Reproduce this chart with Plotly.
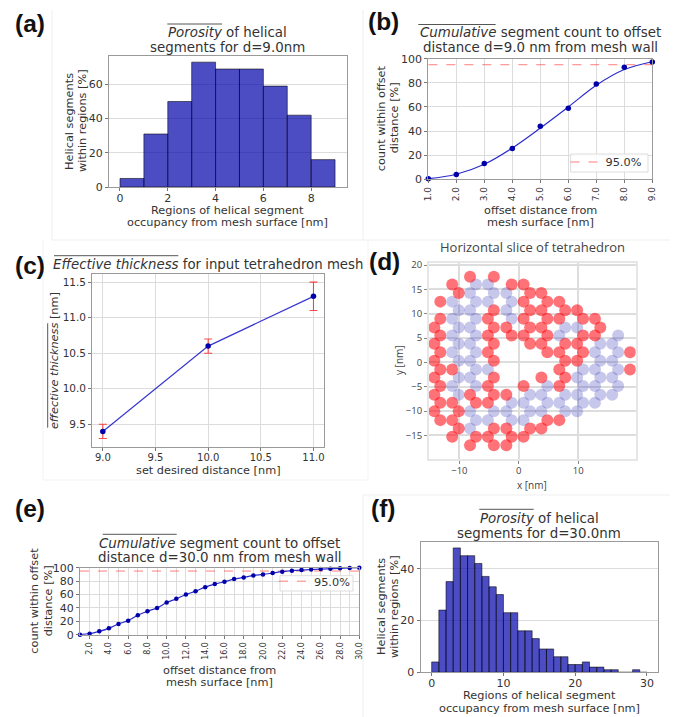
import plotly.graph_objects as go

W, H = 680, 717

# (a)
a_regions = [0.5, 1.5, 2.5, 3.5, 4.5, 5.5, 6.5, 7.5, 8.5]
a_counts = [5, 31, 50, 73, 69, 69, 59, 42, 16]
# (b)
b_offset = [1, 2, 3, 4, 5, 6, 7, 8, 9]
b_points = [0.5, 4, 13, 25.5, 44, 59, 79, 93, 97.3]
b_curve = [0.5, 4.2, 12.5, 26, 42.5, 60, 78, 91, 97.5]
b_limit = [95, 95, 95, 95, 95, 95, 95, 95, 95]
# (c)
c_dist = [9, 10, 11]
c_thick = [9.4, 10.6, 11.3]
c_err = [0.1, 0.1, 0.2]
# (d) rows of the slice: (y, [red x], [blue x])
d_rows = [
    (17.6, [-8.2, -4.2], []),
    (16.0, [-11.2, -1.2, 0.8], [-7.2, -5.2]),
    (14.25, [-10.1, 1.9, 3.8], [-8.2, -4.2, -2.1]),
    (12.5, [-13.2, 0.8, 4.8, 6.8], [-11.2, -7.2, -5.2, -1.2]),
    (10.75, [-4.2, 1.9, 3.8, 7.8, 9.8], [-10.1, -8.2, -2.1]),
    (9.0, [-13.2, -5.2, 0.8, 4.8, 6.8, 10.8, 12.8], [-11.2, -7.2, -1.2]),
    (7.2, [-14.2, -4.2, -2.1, 1.9, 3.8, 13.7], [-10.1, -8.2, 7.8, 9.8]),
    (5.55, [-13.2, -5.2, -1.2, 0.8, 4.8, 10.8, 12.8], [-11.2, -7.2, 6.8, 16.7]),
    (3.85, [-14.2, -4.2, 1.9, 3.8, 7.8, 9.8], [-10.1, -8.2, 13.7, 15.7]),
    (2.1, [-13.2, -5.2, 4.8, 6.8, 10.8, 18.7], [-11.2, -7.2, 12.8, 16.7]),
    (0.35, [-14.2, -4.2, 7.8, 9.8], [-10.1, -8.2, 13.7, 15.7]),
    (-1.45, [-13.2, -11.2, 6.8, 18.7], [-7.2, -5.2, 10.8, 12.8, 16.7]),
    (-3.1, [-14.2, -4.2, 3.8, 7.8], [-10.1, -8.2, 9.8, 13.7, 15.7]),
    (-4.85, [-13.2, -5.2, 0.8, 6.8], [-11.2, -7.2, 4.8, 10.8, 12.8, 16.7]),
    (-6.65, [-14.2, -8.2, -4.2, -2.1], [-10.1, 1.9, 3.8, 7.8, 9.8, 13.7, 15.7]),
    (-8.3, [-13.2, -11.2, -7.2, -5.2], [-1.2, 0.8, 4.8, 6.8, 10.8, 12.8]),
    (-10.05, [-14.2, -10.1], [-8.2, -4.2, -2.1, 1.9, 3.8, 7.8, 9.8]),
    (-11.85, [-13.2, -11.2, 4.8, 6.8], [-7.2, -5.2, -1.2, 0.8]),
    (-13.55, [-10.1, -4.2, -2.1, 1.9, 3.8], [-8.2]),
    (-15.25, [-11.2, -7.2, -5.2, -1.2, 0.8], []),
    (-17.0, [-8.2, -4.2, -2.1], []),
]
d_red_x = [x for y, r, b in d_rows for x in r]
d_red_y = [y for y, r, b in d_rows for x in r]
d_blue_x = [x for y, r, b in d_rows for x in b]
d_blue_y = [y for y, r, b in d_rows for x in b]
# (e)
e_offset = list(range(1, 31))
e_points = [0, 1.5, 5, 9.5, 16, 21, 29, 35, 40, 48, 53.5, 60, 65, 71, 75.5,
            79, 83, 85.5, 88.5, 90, 92, 94, 95.5, 96.5, 97.3, 98, 98.5, 99, 99.6, 100]
e_limit = [95] * 30
e_ticks = list(range(2, 31, 2))
# (f)
f_regions = [i + 0.5 for i in range(30)]
f_counts = [4, 24, 35, 48, 45, 45, 42, 37, 33, 30, 23, 23, 16, 16, 13, 9, 9, 6, 6, 3,
            3, 4, 2, 2, 1, 1, 0, 0, 1, 0]


def px(x):
    return x / W


def py(y):
    return 1 - y / H


MPL = "DejaVu Sans"
TXT = "#333333"
FRAME = "#9a9a9a"
GRID = "#dcdcdc"
BLUE = "#0000a8"
BAR = "rgba(0,0,170,0.7)"
EDGE = "rgba(0,0,0,0.55)"


def axis(domain, rng, anchor, size=11, grid=True, **kw):
    d = dict(domain=domain, range=rng, anchor=anchor, showline=True, mirror=True, linecolor=FRAME, linewidth=1.3,
             ticks="outside", ticklen=3, tickcolor="#777", tickwidth=1,
             tickfont=dict(family=MPL, size=size, color=TXT),
             showgrid=grid, gridcolor=GRID, gridwidth=1.3, zeroline=False)
    d.update(kw)
    return d


fig = go.Figure()

# a
fig.add_trace(go.Bar(x=a_regions, y=a_counts, width=1, marker=dict(color=BAR, line=dict(color=EDGE, width=1)),
                     xaxis="x", yaxis="y", showlegend=False))
# b
fig.add_trace(go.Scatter(x=b_offset, y=b_limit, mode="lines", name="95.0%", xaxis="x2", yaxis="y2",
                         line=dict(color="rgba(255,0,0,0.5)", width=1, dash="dash"), legend="legend"))
fig.add_trace(go.Scatter(x=b_offset, y=b_curve, mode="lines", xaxis="x2", yaxis="y2", showlegend=False,
                         line=dict(color="rgba(20,20,200,0.9)", width=1.2, shape="spline")))
fig.add_trace(go.Scatter(x=b_offset, y=b_points, mode="markers", xaxis="x2", yaxis="y2", showlegend=False,
                         cliponaxis=False, marker=dict(color=BLUE, size=5.5)))
# c
fig.add_trace(go.Scatter(x=c_dist, y=c_thick, mode="lines+markers", xaxis="x3", yaxis="y3", showlegend=False,
                         line=dict(color="rgba(20,20,200,0.85)", width=1.2),
                         marker=dict(color=BLUE, size=5.5),
                         error_y=dict(type="data", array=c_err, color="rgba(255,0,0,0.7)", thickness=1.1, width=4)))
# d
fig.add_trace(go.Scatter(x=d_blue_x, y=d_blue_y, mode="markers", xaxis="x4", yaxis="y4", showlegend=False,
                         marker=dict(color="rgba(70,70,190,0.3)", size=12)))
fig.add_trace(go.Scatter(x=d_red_x, y=d_red_y, mode="markers", xaxis="x4", yaxis="y4", showlegend=False,
                         marker=dict(color="rgba(255,0,10,0.55)", size=12)))
# e
fig.add_trace(go.Scatter(x=e_offset, y=e_limit, mode="lines", name="95.0%", xaxis="x5", yaxis="y5",
                         line=dict(color="rgba(255,0,0,0.5)", width=1, dash="dash"), legend="legend2"))
fig.add_trace(go.Scatter(x=e_offset, y=e_points, mode="lines+markers", xaxis="x5", yaxis="y5", showlegend=False,
                         cliponaxis=False, line=dict(color="rgba(20,20,200,0.9)", width=1.2, shape="spline"),
                         marker=dict(color=BLUE, size=4.5)))
# f
fig.add_trace(go.Bar(x=f_regions, y=f_counts, width=1, marker=dict(color=BAR, line=dict(color=EDGE, width=1)),
                     xaxis="x6", yaxis="y6", showlegend=False))

D_TICK = dict(family="Open Sans", size=9.5, color="#444")
LEG = dict(xanchor="left", yanchor="top", bgcolor="rgba(0,0,0,0)", borderwidth=0,
           font=dict(family=MPL, size=11.3, color=TXT), itemwidth=30)
layout = dict(
    width=W, height=H, margin=dict(l=0, r=0, t=0, b=0, autoexpand=False), paper_bgcolor="white", plot_bgcolor="white",
    showlegend=True,
    xaxis=axis([px(109), px(347)], [-0.46, 9.5], "y", grid=False, dtick=2, tick0=0, ticklabelstandoff=-2),
    yaxis=axis([py(187), py(56)], [0, 76.6], "x", dtick=20, tick0=0),
    xaxis2=axis([px(428.3), px(652.3)], [1, 9], "y2", size=9, dtick=1, tick0=1, tickformat=".1f", tickangle=-90),
    yaxis2=axis([py(179.3), py(58.7)], [0, 100], "x2", dtick=20, tick0=0),
    xaxis3=axis([px(92.3), px(324)], [8.9, 11.1], "y3", size=10, dtick=0.5, tick0=9, tickformat=".1f",
                ticklabelstandoff=-2),
    yaxis3=axis([py(446.7), py(274.3)], [9.185, 11.61], "x3", size=10.5, dtick=0.5, tick0=9.5, tickformat=".1f"),
    xaxis4=dict(domain=[px(429), px(635.7)], range=[-15.1, 19.65], anchor="y4", tickvals=[-10, 0, 10], ticks="outside",
                ticklen=3, tickcolor="#888", showline=True, mirror=True, linecolor="#e6e6e6", linewidth=2,
                tickfont=D_TICK, showgrid=True, gridcolor="#dddddd", gridwidth=1.5, zeroline=False,
                ticklabelstandoff=-2),
    yaxis4=dict(domain=[py(459.3), py(262.7)], range=[-19.9, 20.5], anchor="x4",
                tickvals=[-15, -10, -5, 0, 5, 10, 15, 20], ticks="outside", ticklen=3, tickcolor="#888", showline=True,
                mirror=True, linecolor="#e6e6e6", linewidth=2, tickfont=D_TICK, showgrid=True,
                gridcolor="#dddddd", gridwidth=1.5, zeroline=False),
    xaxis5=axis([px(80), px(359.3)], [1, 30], "y5", size=8, tickvals=e_ticks, ticktext=[f"{t:.1f}" for t in e_ticks],
                tickangle=-90, minor=dict(dtick=1, tick0=1, showgrid=True, gridcolor=GRID, gridwidth=1, ticks="")),
    yaxis5=axis([py(634.7), py(567.7)], [0, 100], "x5", dtick=20, tick0=0),
    xaxis6=axis([px(420.7), px(657.7)], [-1.53, 31.5], "y6", grid=False, dtick=10, tick0=0, ticklabelstandoff=-3),
    yaxis6=axis([py(672.3), py(541.7)], [0, 50.4], "x6", dtick=20, tick0=0),
    legend=dict(x=px(565.5), y=py(147.5), **LEG),
    legend2=dict(x=px(274), y=py(566.7), **LEG),
)

ann = []


def label(text, x, y, size=11, rot=0, family=MPL, color=TXT):
    ann.append(dict(text=text, x=px(x), y=py(y), xref="paper", yref="paper", xanchor="center", yanchor="middle",
                    showarrow=False, textangle=rot, font=dict(family=family, size=size, color=color)))


T = 13.4
L = 11.3
for t, x, y in [
    ("<i>Porosity</i> of helical", 227.4, 32), ("segments for d=9.0nm", 227.4, 47.5),
    ("<i>Cumulative</i> segment count to offset", 540.3, 32.3), ("distance d=9.0 nm from mesh wall", 540.5, 47.7),
    ("<i>Cumulative</i> segment count to offset", 219, 543.3), ("distance d=30.0 nm from mesh wall", 219.5, 557.7),
    ("<i>Porosity</i> of helical", 539.3, 518.3), ("segments for d=30.0nm", 539.3, 533.3),
]:
    label(t, x, y, T)
label("<i>Effective thickness</i> for input tetrahedron mesh", 208, 264, 13.3)
for t, x, y in [
    ("Regions of helical segment", 228, 210), ("occupancy from mesh surface [nm]", 228, 222.5),
    ("offset distance from", 540.3, 210), ("mesh surface [nm]", 540.3, 222),
    ("set desired distance [nm]", 208, 470),
    ("offset distance from", 219.7, 670.3), ("mesh surface [nm]", 219.7, 682.7),
    ("Regions of helical segment", 539.5, 695.7), ("occupancy from mesh surface [nm]", 539.5, 708.3),
]:
    label(t, x, y, L)
for t, x, y in [
    ("Helical segments", 69, 122), ("within regions [%]", 82, 121),
    ("count within offset", 381, 118.3), ("distance [%]", 394, 118.3),
    ("<i>effective thickness</i> [nm]", 54.3, 360.8),
    ("count within offset", 35, 600.7), ("distance [%]", 48.3, 601),
    ("Helical segments", 381, 607), ("within regions [%]", 394, 607),
]:
    label(t, x, y, L, rot=-90)
label("Horizontal slice of tetrahedron", 532, 247, 13, family="Open Sans", color="#444")
label("x [nm]", 531.7, 484.5, 10, family="Open Sans", color="#444")
label("y [nm]", 399, 360, 10, rot=-90, family="Open Sans", color="#444")
for t, x, y in [("(a)", 30, 23), ("(b)", 383, 22), ("(c)", 29.5, 265), ("(d)", 384, 262), ("(e)", 30, 508), ("(f)", 383, 508)]:
    label(f"<b>{t}</b>", x, y, 24.5, family="Liberation Sans", color="#111111")
layout["annotations"] = ann


def seg(x0, y0, x1, y1, color, width=1):
    return dict(type="line", xref="paper", yref="paper", x0=px(x0), y0=py(y0), x1=px(x1), y1=py(y1),
                line=dict(color=color, width=width), layer="below")


def legend_box(x0, y0, x1, y1):
    return dict(type="rect", xref="paper", yref="paper", x0=px(x0), y0=py(y0), x1=px(x1), y1=py(y1),
                line=dict(color="#dddddd", width=1), fillcolor="rgba(255,255,255,0.85)", layer="above")


layout["shapes"] = [
    # overlines
    seg(167.3, 24, 222, 24, "#555", 1), seg(418.3, 24.5, 495.7, 24.5, "#555", 1),
    seg(54, 255.7, 178.3, 255.7, "#555", 1), seg(102.7, 534.3, 176.7, 534.3, "#555", 1),
    seg(479.3, 509.3, 533.7, 509.3, "#555", 1), seg(47.7, 323.3, 47.7, 427.7, "#555", 1),
    # faint panel borders
    seg(52, 10, 52, 240, "#efefef"), seg(363, 10, 363, 240, "#efefef"),
    seg(52, 240, 670, 240, "#efefef"), seg(43, 240, 43, 480, "#f3f3f3"), seg(43, 480, 368, 480, "#f3f3f3"),
    seg(368, 240, 368, 480, "#f3f3f3"),
    seg(363, 495, 363, 717, "#efefef"), seg(363, 495, 670, 495, "#efefef"),
    # legend frames
    legend_box(570.7, 154, 648, 172), legend_box(280, 575.7, 353, 591),
]

fig.update_layout(**layout)
fig.write_html("out.html", config={"displayModeBar": False},
               post_script="document.body.style.margin='0';document.body.style.overflow='hidden';")
